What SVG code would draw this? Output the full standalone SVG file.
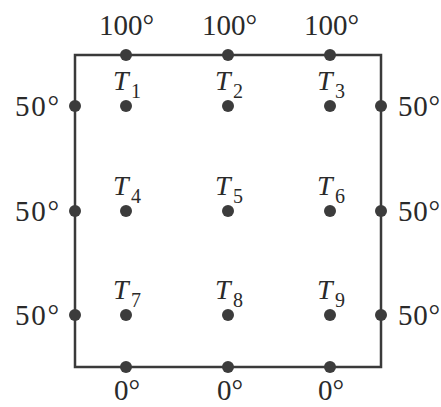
<svg xmlns="http://www.w3.org/2000/svg" width="441" height="407" viewBox="0 0 441 407">
<style>
.lbl{font-family:"Liberation Serif","Times New Roman",serif;font-size:29px;fill:#2a2a2a}
.t{font-family:"Liberation Serif","Times New Roman",serif;font-size:28px;font-style:italic;fill:#2a2a2a}
.s{font-family:"Liberation Serif","Times New Roman",serif;font-size:20px;fill:#2a2a2a}
.dot{fill:#3c3c3c}
.edge{fill:none;stroke:#3a3a3a;stroke-width:2.5}
</style>
<rect width="441" height="407" fill="#ffffff"/>
<g id="connectors">
<rect class="edge" x="75" y="55" width="306" height="312"/>
</g>
<g id="top">
<circle class="dot" cx="126" cy="55" r="6"/><circle class="dot" cx="228" cy="55" r="6"/><circle class="dot" cx="330" cy="55" r="6"/>
<text class="lbl" x="99" y="35">100°</text>
<text class="lbl" x="202" y="35">100°</text>
<text class="lbl" x="304" y="35">100°</text>
</g>
<g id="bottom">
<circle class="dot" cx="126" cy="367" r="6"/><circle class="dot" cx="228" cy="367" r="6"/><circle class="dot" cx="330" cy="367" r="6"/>
<text class="lbl" x="114" y="400">0°</text>
<text class="lbl" x="217" y="400">0°</text>
<text class="lbl" x="318" y="400">0°</text>
</g>
<g id="left">
<circle class="dot" cx="75" cy="106" r="6"/><circle class="dot" cx="75" cy="211" r="6"/><circle class="dot" cx="75" cy="315" r="6"/>
<text class="lbl" x="15" y="116" textLength="44" lengthAdjust="spacing">50°</text>
<text class="lbl" x="15" y="221" textLength="44" lengthAdjust="spacing">50°</text>
<text class="lbl" x="15" y="325" textLength="44" lengthAdjust="spacing">50°</text>
</g>
<g id="right">
<circle class="dot" cx="381" cy="106" r="6"/><circle class="dot" cx="381" cy="211" r="6"/><circle class="dot" cx="381" cy="315" r="6"/>
<text class="lbl" x="398" y="116" textLength="42" lengthAdjust="spacing">50°</text>
<text class="lbl" x="398" y="221" textLength="42" lengthAdjust="spacing">50°</text>
<text class="lbl" x="398" y="325" textLength="42" lengthAdjust="spacing">50°</text>
</g>
<g id="T1"><circle class="dot" cx="126" cy="106" r="6"/><text class="t" x="113" y="90">T</text><text class="s" x="131" y="98">1</text></g>
<g id="T2"><circle class="dot" cx="228" cy="106" r="6"/><text class="t" x="215" y="90">T</text><text class="s" x="233" y="98">2</text></g>
<g id="T3"><circle class="dot" cx="330" cy="106" r="6"/><text class="t" x="317" y="90">T</text><text class="s" x="335" y="98">3</text></g>
<g id="T4"><circle class="dot" cx="126" cy="211" r="6"/><text class="t" x="113" y="195">T</text><text class="s" x="131" y="203">4</text></g>
<g id="T5"><circle class="dot" cx="228" cy="211" r="6"/><text class="t" x="215" y="195">T</text><text class="s" x="233" y="203">5</text></g>
<g id="T6"><circle class="dot" cx="330" cy="211" r="6"/><text class="t" x="317" y="195">T</text><text class="s" x="335" y="203">6</text></g>
<g id="T7"><circle class="dot" cx="126" cy="315" r="6"/><text class="t" x="113" y="299">T</text><text class="s" x="131" y="307">7</text></g>
<g id="T8"><circle class="dot" cx="228" cy="315" r="6"/><text class="t" x="215" y="299">T</text><text class="s" x="233" y="307">8</text></g>
<g id="T9"><circle class="dot" cx="330" cy="315" r="6"/><text class="t" x="317" y="299">T</text><text class="s" x="335" y="307">9</text></g>
</svg>
